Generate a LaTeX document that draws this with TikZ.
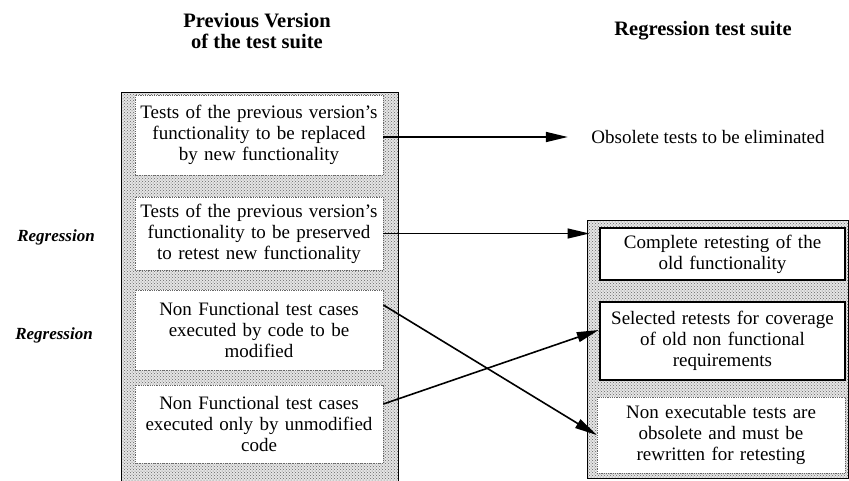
\documentclass[tikz,border=0pt]{standalone}
\usepackage{fontspec}
\setmainfont{Liberation Serif}
\usetikzlibrary{arrows.meta,patterns}

\begin{document}
\begin{tikzpicture}[x=1pt,y=-1pt,
  panel/.style={draw=black,line width=1pt,preaction={fill=black!10},
    pattern=crosshatch dots,pattern color=black!60,inner sep=0pt},
  textbox/.style={fill=white,text width=240pt,align=center,inner sep=0pt,
    font=\fontsize{19}{21}\selectfont},
  oldbox/.style={textbox,draw=black!60,densely dotted,line width=0.8pt,minimum width=248pt},
  newbox/.style={textbox,draw=black,line width=2.5pt,minimum width=245pt},
  lostbox/.style={textbox,draw=black!60,densely dotted,line width=0.8pt,minimum width=248pt},
  heading/.style={font=\fontsize{20.5}{20.5}\selectfont\bfseries,align=center},
  sidelabel/.style={font=\fontsize{17}{17}\selectfont\bfseries\itshape},
  plain/.style={font=\fontsize{19}{21}\selectfont},
  arr/.style={line width=1.6pt,-{Triangle[length=22pt,width=10pt]}}
]
\useasboundingbox (0,0) rectangle (849,480);
\begin{scope}
\clip (0,0) rectangle (849,480);

% headings
\node[heading] (headL) at (257,31) {Previous Version\\of the test suite};
\node[heading] (headR) at (703,31) {Regression test suite};

% the two suites
\node[panel,minimum width=277pt,minimum height=398pt] (panelL) at (259.5,291) {};
\node[panel,minimum width=261pt,minimum height=258pt] (panelR) at (717.5,349) {};

% previous version of the test suite
\node[oldbox,minimum height=80pt] (L1) at (259,135)
  {Tests of the previous version's\\functionality to be replaced\\by new functionality};
\node[oldbox,minimum height=73pt] (L2) at (259,233.5)
  {Tests of the previous version's\\functionality to be preserved\\to retest new functionality};
\node[oldbox,minimum height=80pt] (L3) at (259,330)
  {Non Functional test cases\\executed by code to be\\modified};
\node[oldbox,minimum height=78pt] (L4) at (259,424)
  {Non Functional test cases\\executed only by unmodified\\code};

% regression test suite
\node[newbox,minimum height=52pt] (R1) at (722.5,254)
  {Complete retesting of the\\old functionality};
\node[newbox,minimum height=78pt] (R2) at (722.5,341)
  {Selected retests for coverage\\of old non functional\\requirements};
\node[lostbox,minimum height=76pt] (R3) at (721,435)
  {Non executable tests are\\obsolete and must be\\rewritten for retesting};

\node[plain] (obs) at (708,137) {Obsolete tests to be eliminated};

% side labels
\node[sidelabel] (reg1) at (56,237) {Regression};
\node[sidelabel] (reg2) at (54,335) {Regression};

% connectors
\draw[arr,shorten >=20pt] (L1.east |- obs.west) -- (obs.west);
\draw[arr,line width=1.3pt,shorten >=-3pt] (L2.east) -- (L2.east -| panelR.west);
\draw[arr] ([yshift=25pt]L3.east) -- (R3.west);
\draw[arr] ([yshift=20pt]L4.east) -- ([yshift=11pt]R2.west);
\end{scope}
\end{tikzpicture}
\end{document}
